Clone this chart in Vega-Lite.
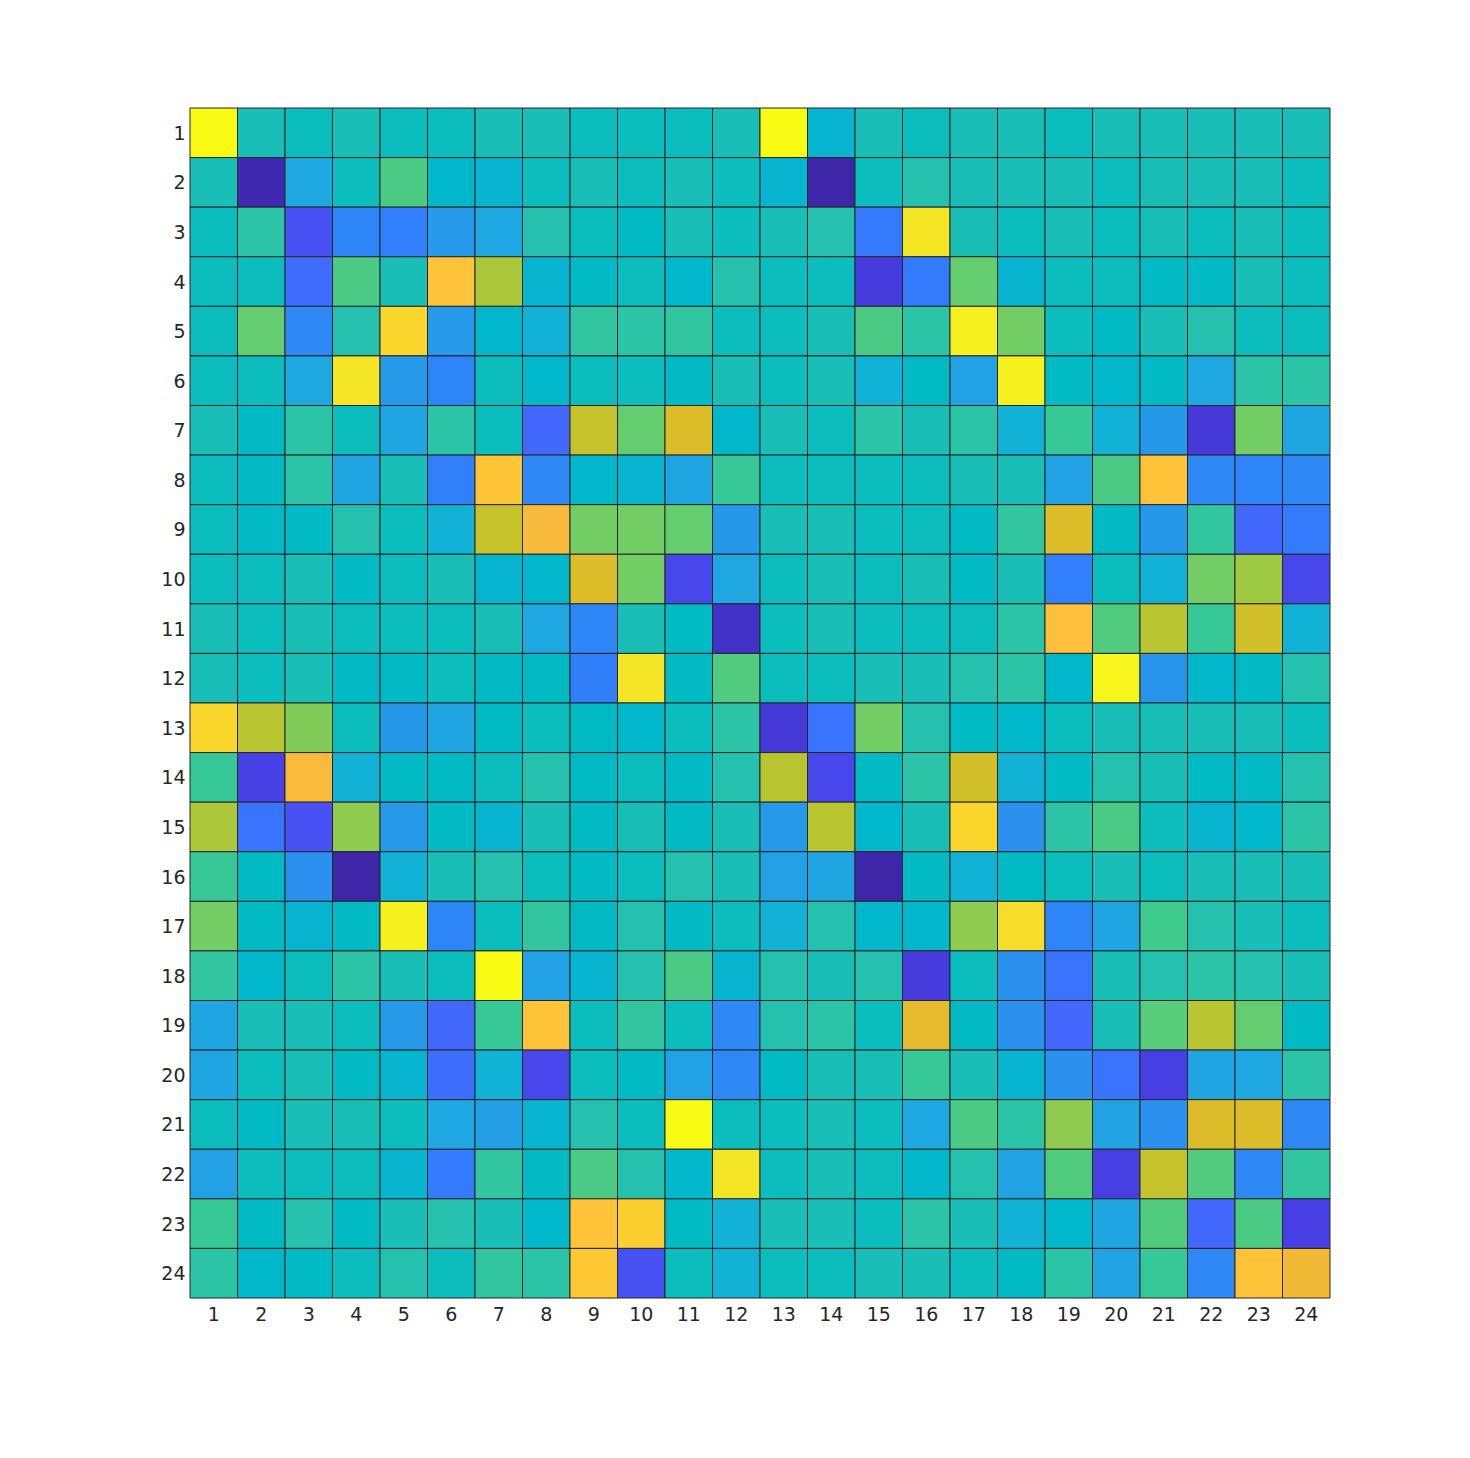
{
"$schema": "https://vega.github.io/schema/vega-lite/v6.json",
"width": 1140, "height": 1190,
"autosize": {"type": "none"},
"padding": {"left": 190, "top": 108, "right": 140, "bottom": 160},
"background": "white",
"config": {"view": {"stroke": null}},
"data": {"values": [
{"r":1,"c":1,"v":1},{"r":1,"c":2,"v":0.5079},{"r":1,"c":3,"v":0.4921},{"r":1,"c":4,"v":0.5079},{"r":1,"c":5,"v":0.4921},{"r":1,"c":6,"v":0.4921},{"r":1,"c":7,"v":0.5079},{"r":1,"c":8,"v":0.5079},{"r":1,"c":9,"v":0.4921},{"r":1,"c":10,"v":0.4921},{"r":1,"c":11,"v":0.4921},{"r":1,"c":12,"v":0.5079},{"r":1,"c":13,"v":1},{"r":1,"c":14,"v":0.4444},{"r":1,"c":15,"v":0.5079},{"r":1,"c":16,"v":0.4921},{"r":1,"c":17,"v":0.5079},{"r":1,"c":18,"v":0.5079},{"r":1,"c":19,"v":0.4921},{"r":1,"c":20,"v":0.5079},{"r":1,"c":21,"v":0.5079},{"r":1,"c":22,"v":0.5079},{"r":1,"c":23,"v":0.5079},{"r":1,"c":24,"v":0.5079},
{"r":2,"c":1,"v":0.5079},{"r":2,"c":2,"v":0.01},{"r":2,"c":3,"v":0.39},{"r":2,"c":4,"v":0.4921},{"r":2,"c":5,"v":0.603},{"r":2,"c":6,"v":0.4603},{"r":2,"c":7,"v":0.4444},{"r":2,"c":8,"v":0.4921},{"r":2,"c":9,"v":0.5079},{"r":2,"c":10,"v":0.4921},{"r":2,"c":11,"v":0.5079},{"r":2,"c":12,"v":0.4921},{"r":2,"c":13,"v":0.4444},{"r":2,"c":14,"v":0},{"r":2,"c":15,"v":0.4921},{"r":2,"c":16,"v":0.5238},{"r":2,"c":17,"v":0.5079},{"r":2,"c":18,"v":0.5079},{"r":2,"c":19,"v":0.5079},{"r":2,"c":20,"v":0.4921},{"r":2,"c":21,"v":0.5079},{"r":2,"c":22,"v":0.5079},{"r":2,"c":23,"v":0.5079},{"r":2,"c":24,"v":0.4921},
{"r":3,"c":1,"v":0.4921},{"r":3,"c":2,"v":0.5397},{"r":3,"c":3,"v":0.14},{"r":3,"c":4,"v":0.28},{"r":3,"c":5,"v":0.265},{"r":3,"c":6,"v":0.345},{"r":3,"c":7,"v":0.39},{"r":3,"c":8,"v":0.5238},{"r":3,"c":9,"v":0.4921},{"r":3,"c":10,"v":0.4762},{"r":3,"c":11,"v":0.5079},{"r":3,"c":12,"v":0.4921},{"r":3,"c":13,"v":0.5079},{"r":3,"c":14,"v":0.5238},{"r":3,"c":15,"v":0.25},{"r":3,"c":16,"v":0.945},{"r":3,"c":17,"v":0.5079},{"r":3,"c":18,"v":0.4921},{"r":3,"c":19,"v":0.5079},{"r":3,"c":20,"v":0.4921},{"r":3,"c":21,"v":0.5079},{"r":3,"c":22,"v":0.4921},{"r":3,"c":23,"v":0.5079},{"r":3,"c":24,"v":0.4921},
{"r":4,"c":1,"v":0.4921},{"r":4,"c":2,"v":0.4921},{"r":4,"c":3,"v":0.22},{"r":4,"c":4,"v":0.603},{"r":4,"c":5,"v":0.5079},{"r":4,"c":6,"v":0.857},{"r":4,"c":7,"v":0.714},{"r":4,"c":8,"v":0.4444},{"r":4,"c":9,"v":0.4762},{"r":4,"c":10,"v":0.4921},{"r":4,"c":11,"v":0.4603},{"r":4,"c":12,"v":0.5238},{"r":4,"c":13,"v":0.4921},{"r":4,"c":14,"v":0.4921},{"r":4,"c":15,"v":0.075},{"r":4,"c":16,"v":0.25},{"r":4,"c":17,"v":0.635},{"r":4,"c":18,"v":0.4444},{"r":4,"c":19,"v":0.4921},{"r":4,"c":20,"v":0.4921},{"r":4,"c":21,"v":0.4762},{"r":4,"c":22,"v":0.4762},{"r":4,"c":23,"v":0.5079},{"r":4,"c":24,"v":0.4921},
{"r":5,"c":1,"v":0.4921},{"r":5,"c":2,"v":0.635},{"r":5,"c":3,"v":0.29},{"r":5,"c":4,"v":0.5238},{"r":5,"c":5,"v":0.905},{"r":5,"c":6,"v":0.345},{"r":5,"c":7,"v":0.4603},{"r":5,"c":8,"v":0.429},{"r":5,"c":9,"v":0.556},{"r":5,"c":10,"v":0.5397},{"r":5,"c":11,"v":0.556},{"r":5,"c":12,"v":0.4921},{"r":5,"c":13,"v":0.4921},{"r":5,"c":14,"v":0.5079},{"r":5,"c":15,"v":0.603},{"r":5,"c":16,"v":0.5397},{"r":5,"c":17,"v":0.97},{"r":5,"c":18,"v":0.651},{"r":5,"c":19,"v":0.4921},{"r":5,"c":20,"v":0.4762},{"r":5,"c":21,"v":0.5079},{"r":5,"c":22,"v":0.5238},{"r":5,"c":23,"v":0.4921},{"r":5,"c":24,"v":0.4921},
{"r":6,"c":1,"v":0.4921},{"r":6,"c":2,"v":0.4921},{"r":6,"c":3,"v":0.39},{"r":6,"c":4,"v":0.945},{"r":6,"c":5,"v":0.345},{"r":6,"c":6,"v":0.28},{"r":6,"c":7,"v":0.4921},{"r":6,"c":8,"v":0.4603},{"r":6,"c":9,"v":0.4921},{"r":6,"c":10,"v":0.4921},{"r":6,"c":11,"v":0.4762},{"r":6,"c":12,"v":0.5079},{"r":6,"c":13,"v":0.4921},{"r":6,"c":14,"v":0.5079},{"r":6,"c":15,"v":0.429},{"r":6,"c":16,"v":0.4762},{"r":6,"c":17,"v":0.37},{"r":6,"c":18,"v":0.97},{"r":6,"c":19,"v":0.4762},{"r":6,"c":20,"v":0.4603},{"r":6,"c":21,"v":0.4762},{"r":6,"c":22,"v":0.39},{"r":6,"c":23,"v":0.5397},{"r":6,"c":24,"v":0.5397},
{"r":7,"c":1,"v":0.5079},{"r":7,"c":2,"v":0.4762},{"r":7,"c":3,"v":0.5397},{"r":7,"c":4,"v":0.4921},{"r":7,"c":5,"v":0.385},{"r":7,"c":6,"v":0.5397},{"r":7,"c":7,"v":0.4921},{"r":7,"c":8,"v":0.205},{"r":7,"c":9,"v":0.746},{"r":7,"c":10,"v":0.635},{"r":7,"c":11,"v":0.778},{"r":7,"c":12,"v":0.4603},{"r":7,"c":13,"v":0.5079},{"r":7,"c":14,"v":0.4921},{"r":7,"c":15,"v":0.5397},{"r":7,"c":16,"v":0.5079},{"r":7,"c":17,"v":0.5397},{"r":7,"c":18,"v":0.429},{"r":7,"c":19,"v":0.571},{"r":7,"c":20,"v":0.429},{"r":7,"c":21,"v":0.34},{"r":7,"c":22,"v":0.07},{"r":7,"c":23,"v":0.651},{"r":7,"c":24,"v":0.385},
{"r":8,"c":1,"v":0.4921},{"r":8,"c":2,"v":0.4762},{"r":8,"c":3,"v":0.5397},{"r":8,"c":4,"v":0.385},{"r":8,"c":5,"v":0.5079},{"r":8,"c":6,"v":0.265},{"r":8,"c":7,"v":0.865},{"r":8,"c":8,"v":0.29},{"r":8,"c":9,"v":0.4603},{"r":8,"c":10,"v":0.4444},{"r":8,"c":11,"v":0.385},{"r":8,"c":12,"v":0.571},{"r":8,"c":13,"v":0.4921},{"r":8,"c":14,"v":0.4921},{"r":8,"c":15,"v":0.4921},{"r":8,"c":16,"v":0.4921},{"r":8,"c":17,"v":0.5079},{"r":8,"c":18,"v":0.5079},{"r":8,"c":19,"v":0.37},{"r":8,"c":20,"v":0.603},{"r":8,"c":21,"v":0.857},{"r":8,"c":22,"v":0.29},{"r":8,"c":23,"v":0.28},{"r":8,"c":24,"v":0.29},
{"r":9,"c":1,"v":0.4921},{"r":9,"c":2,"v":0.4762},{"r":9,"c":3,"v":0.4762},{"r":9,"c":4,"v":0.5238},{"r":9,"c":5,"v":0.4921},{"r":9,"c":6,"v":0.429},{"r":9,"c":7,"v":0.746},{"r":9,"c":8,"v":0.825},{"r":9,"c":9,"v":0.651},{"r":9,"c":10,"v":0.651},{"r":9,"c":11,"v":0.635},{"r":9,"c":12,"v":0.34},{"r":9,"c":13,"v":0.5079},{"r":9,"c":14,"v":0.5079},{"r":9,"c":15,"v":0.4921},{"r":9,"c":16,"v":0.4921},{"r":9,"c":17,"v":0.4762},{"r":9,"c":18,"v":0.556},{"r":9,"c":19,"v":0.778},{"r":9,"c":20,"v":0.4762},{"r":9,"c":21,"v":0.34},{"r":9,"c":22,"v":0.556},{"r":9,"c":23,"v":0.205},{"r":9,"c":24,"v":0.25},
{"r":10,"c":1,"v":0.4921},{"r":10,"c":2,"v":0.4921},{"r":10,"c":3,"v":0.5079},{"r":10,"c":4,"v":0.4762},{"r":10,"c":5,"v":0.4921},{"r":10,"c":6,"v":0.5079},{"r":10,"c":7,"v":0.4444},{"r":10,"c":8,"v":0.4603},{"r":10,"c":9,"v":0.778},{"r":10,"c":10,"v":0.651},{"r":10,"c":11,"v":0.11},{"r":10,"c":12,"v":0.39},{"r":10,"c":13,"v":0.4921},{"r":10,"c":14,"v":0.5079},{"r":10,"c":15,"v":0.4921},{"r":10,"c":16,"v":0.5079},{"r":10,"c":17,"v":0.4762},{"r":10,"c":18,"v":0.5079},{"r":10,"c":19,"v":0.265},{"r":10,"c":20,"v":0.4921},{"r":10,"c":21,"v":0.429},{"r":10,"c":22,"v":0.651},{"r":10,"c":23,"v":0.698},{"r":10,"c":24,"v":0.11},
{"r":11,"c":1,"v":0.5079},{"r":11,"c":2,"v":0.4921},{"r":11,"c":3,"v":0.5079},{"r":11,"c":4,"v":0.4921},{"r":11,"c":5,"v":0.4921},{"r":11,"c":6,"v":0.4921},{"r":11,"c":7,"v":0.5079},{"r":11,"c":8,"v":0.39},{"r":11,"c":9,"v":0.285},{"r":11,"c":10,"v":0.5079},{"r":11,"c":11,"v":0.4762},{"r":11,"c":12,"v":0.04},{"r":11,"c":13,"v":0.4921},{"r":11,"c":14,"v":0.5079},{"r":11,"c":15,"v":0.4921},{"r":11,"c":16,"v":0.4921},{"r":11,"c":17,"v":0.4921},{"r":11,"c":18,"v":0.5397},{"r":11,"c":19,"v":0.845},{"r":11,"c":20,"v":0.612},{"r":11,"c":21,"v":0.73},{"r":11,"c":22,"v":0.571},{"r":11,"c":23,"v":0.762},{"r":11,"c":24,"v":0.429},
{"r":12,"c":1,"v":0.5079},{"r":12,"c":2,"v":0.4921},{"r":12,"c":3,"v":0.5079},{"r":12,"c":4,"v":0.4762},{"r":12,"c":5,"v":0.4762},{"r":12,"c":6,"v":0.4921},{"r":12,"c":7,"v":0.4762},{"r":12,"c":8,"v":0.4762},{"r":12,"c":9,"v":0.26},{"r":12,"c":10,"v":0.945},{"r":12,"c":11,"v":0.4762},{"r":12,"c":12,"v":0.612},{"r":12,"c":13,"v":0.4921},{"r":12,"c":14,"v":0.4921},{"r":12,"c":15,"v":0.5079},{"r":12,"c":16,"v":0.5079},{"r":12,"c":17,"v":0.5238},{"r":12,"c":18,"v":0.5397},{"r":12,"c":19,"v":0.4603},{"r":12,"c":20,"v":0.985},{"r":12,"c":21,"v":0.33},{"r":12,"c":22,"v":0.4603},{"r":12,"c":23,"v":0.4762},{"r":12,"c":24,"v":0.5238},
{"r":13,"c":1,"v":0.905},{"r":13,"c":2,"v":0.73},{"r":13,"c":3,"v":0.667},{"r":13,"c":4,"v":0.4921},{"r":13,"c":5,"v":0.34},{"r":13,"c":6,"v":0.385},{"r":13,"c":7,"v":0.4762},{"r":13,"c":8,"v":0.4921},{"r":13,"c":9,"v":0.4762},{"r":13,"c":10,"v":0.4603},{"r":13,"c":11,"v":0.4921},{"r":13,"c":12,"v":0.5397},{"r":13,"c":13,"v":0.07},{"r":13,"c":14,"v":0.235},{"r":13,"c":15,"v":0.651},{"r":13,"c":16,"v":0.5238},{"r":13,"c":17,"v":0.4762},{"r":13,"c":18,"v":0.4603},{"r":13,"c":19,"v":0.4921},{"r":13,"c":20,"v":0.5079},{"r":13,"c":21,"v":0.5079},{"r":13,"c":22,"v":0.5079},{"r":13,"c":23,"v":0.5079},{"r":13,"c":24,"v":0.4921},
{"r":14,"c":1,"v":0.571},{"r":14,"c":2,"v":0.095},{"r":14,"c":3,"v":0.83},{"r":14,"c":4,"v":0.429},{"r":14,"c":5,"v":0.4762},{"r":14,"c":6,"v":0.4762},{"r":14,"c":7,"v":0.4921},{"r":14,"c":8,"v":0.5238},{"r":14,"c":9,"v":0.4762},{"r":14,"c":10,"v":0.4921},{"r":14,"c":11,"v":0.4762},{"r":14,"c":12,"v":0.5238},{"r":14,"c":13,"v":0.73},{"r":14,"c":14,"v":0.11},{"r":14,"c":15,"v":0.4762},{"r":14,"c":16,"v":0.5397},{"r":14,"c":17,"v":0.762},{"r":14,"c":18,"v":0.429},{"r":14,"c":19,"v":0.4762},{"r":14,"c":20,"v":0.5238},{"r":14,"c":21,"v":0.5079},{"r":14,"c":22,"v":0.4762},{"r":14,"c":23,"v":0.4762},{"r":14,"c":24,"v":0.5238},
{"r":15,"c":1,"v":0.714},{"r":15,"c":2,"v":0.235},{"r":15,"c":3,"v":0.14},{"r":15,"c":4,"v":0.683},{"r":15,"c":5,"v":0.345},{"r":15,"c":6,"v":0.4762},{"r":15,"c":7,"v":0.4444},{"r":15,"c":8,"v":0.5079},{"r":15,"c":9,"v":0.4762},{"r":15,"c":10,"v":0.5079},{"r":15,"c":11,"v":0.4762},{"r":15,"c":12,"v":0.5079},{"r":15,"c":13,"v":0.345},{"r":15,"c":14,"v":0.73},{"r":15,"c":15,"v":0.4603},{"r":15,"c":16,"v":0.5079},{"r":15,"c":17,"v":0.905},{"r":15,"c":18,"v":0.32},{"r":15,"c":19,"v":0.5397},{"r":15,"c":20,"v":0.603},{"r":15,"c":21,"v":0.4921},{"r":15,"c":22,"v":0.4444},{"r":15,"c":23,"v":0.4603},{"r":15,"c":24,"v":0.5397},
{"r":16,"c":1,"v":0.571},{"r":16,"c":2,"v":0.4762},{"r":16,"c":3,"v":0.32},{"r":16,"c":4,"v":0},{"r":16,"c":5,"v":0.429},{"r":16,"c":6,"v":0.5079},{"r":16,"c":7,"v":0.5238},{"r":16,"c":8,"v":0.4921},{"r":16,"c":9,"v":0.4762},{"r":16,"c":10,"v":0.4921},{"r":16,"c":11,"v":0.5238},{"r":16,"c":12,"v":0.5079},{"r":16,"c":13,"v":0.37},{"r":16,"c":14,"v":0.385},{"r":16,"c":15,"v":0},{"r":16,"c":16,"v":0.4762},{"r":16,"c":17,"v":0.429},{"r":16,"c":18,"v":0.4762},{"r":16,"c":19,"v":0.4921},{"r":16,"c":20,"v":0.5079},{"r":16,"c":21,"v":0.4921},{"r":16,"c":22,"v":0.5079},{"r":16,"c":23,"v":0.5079},{"r":16,"c":24,"v":0.5079},
{"r":17,"c":1,"v":0.651},{"r":17,"c":2,"v":0.4762},{"r":17,"c":3,"v":0.4444},{"r":17,"c":4,"v":0.4762},{"r":17,"c":5,"v":0.97},{"r":17,"c":6,"v":0.28},{"r":17,"c":7,"v":0.4921},{"r":17,"c":8,"v":0.556},{"r":17,"c":9,"v":0.4762},{"r":17,"c":10,"v":0.5238},{"r":17,"c":11,"v":0.4762},{"r":17,"c":12,"v":0.4921},{"r":17,"c":13,"v":0.429},{"r":17,"c":14,"v":0.5238},{"r":17,"c":15,"v":0.4603},{"r":17,"c":16,"v":0.4603},{"r":17,"c":17,"v":0.683},{"r":17,"c":18,"v":0.921},{"r":17,"c":19,"v":0.28},{"r":17,"c":20,"v":0.385},{"r":17,"c":21,"v":0.587},{"r":17,"c":22,"v":0.5238},{"r":17,"c":23,"v":0.5079},{"r":17,"c":24,"v":0.4921},
{"r":18,"c":1,"v":0.556},{"r":18,"c":2,"v":0.4603},{"r":18,"c":3,"v":0.4921},{"r":18,"c":4,"v":0.5397},{"r":18,"c":5,"v":0.5079},{"r":18,"c":6,"v":0.4921},{"r":18,"c":7,"v":1},{"r":18,"c":8,"v":0.37},{"r":18,"c":9,"v":0.4444},{"r":18,"c":10,"v":0.5238},{"r":18,"c":11,"v":0.603},{"r":18,"c":12,"v":0.4444},{"r":18,"c":13,"v":0.5238},{"r":18,"c":14,"v":0.5079},{"r":18,"c":15,"v":0.5238},{"r":18,"c":16,"v":0.075},{"r":18,"c":17,"v":0.4921},{"r":18,"c":18,"v":0.32},{"r":18,"c":19,"v":0.235},{"r":18,"c":20,"v":0.5079},{"r":18,"c":21,"v":0.5238},{"r":18,"c":22,"v":0.5397},{"r":18,"c":23,"v":0.5238},{"r":18,"c":24,"v":0.5079},
{"r":19,"c":1,"v":0.385},{"r":19,"c":2,"v":0.5079},{"r":19,"c":3,"v":0.5079},{"r":19,"c":4,"v":0.4921},{"r":19,"c":5,"v":0.345},{"r":19,"c":6,"v":0.205},{"r":19,"c":7,"v":0.571},{"r":19,"c":8,"v":0.857},{"r":19,"c":9,"v":0.4921},{"r":19,"c":10,"v":0.556},{"r":19,"c":11,"v":0.4921},{"r":19,"c":12,"v":0.29},{"r":19,"c":13,"v":0.5238},{"r":19,"c":14,"v":0.5397},{"r":19,"c":15,"v":0.4921},{"r":19,"c":16,"v":0.794},{"r":19,"c":17,"v":0.4762},{"r":19,"c":18,"v":0.32},{"r":19,"c":19,"v":0.205},{"r":19,"c":20,"v":0.5079},{"r":19,"c":21,"v":0.619},{"r":19,"c":22,"v":0.73},{"r":19,"c":23,"v":0.635},{"r":19,"c":24,"v":0.4762},
{"r":20,"c":1,"v":0.385},{"r":20,"c":2,"v":0.4921},{"r":20,"c":3,"v":0.5079},{"r":20,"c":4,"v":0.4762},{"r":20,"c":5,"v":0.4444},{"r":20,"c":6,"v":0.22},{"r":20,"c":7,"v":0.429},{"r":20,"c":8,"v":0.11},{"r":20,"c":9,"v":0.4921},{"r":20,"c":10,"v":0.4762},{"r":20,"c":11,"v":0.37},{"r":20,"c":12,"v":0.29},{"r":20,"c":13,"v":0.4762},{"r":20,"c":14,"v":0.5079},{"r":20,"c":15,"v":0.5079},{"r":20,"c":16,"v":0.571},{"r":20,"c":17,"v":0.5079},{"r":20,"c":18,"v":0.4444},{"r":20,"c":19,"v":0.32},{"r":20,"c":20,"v":0.235},{"r":20,"c":21,"v":0.09},{"r":20,"c":22,"v":0.385},{"r":20,"c":23,"v":0.39},{"r":20,"c":24,"v":0.5397},
{"r":21,"c":1,"v":0.4921},{"r":21,"c":2,"v":0.4762},{"r":21,"c":3,"v":0.5079},{"r":21,"c":4,"v":0.5079},{"r":21,"c":5,"v":0.4921},{"r":21,"c":6,"v":0.39},{"r":21,"c":7,"v":0.365},{"r":21,"c":8,"v":0.4444},{"r":21,"c":9,"v":0.5238},{"r":21,"c":10,"v":0.4921},{"r":21,"c":11,"v":1},{"r":21,"c":12,"v":0.4921},{"r":21,"c":13,"v":0.4921},{"r":21,"c":14,"v":0.5079},{"r":21,"c":15,"v":0.4921},{"r":21,"c":16,"v":0.39},{"r":21,"c":17,"v":0.603},{"r":21,"c":18,"v":0.5397},{"r":21,"c":19,"v":0.683},{"r":21,"c":20,"v":0.375},{"r":21,"c":21,"v":0.32},{"r":21,"c":22,"v":0.778},{"r":21,"c":23,"v":0.778},{"r":21,"c":24,"v":0.29},
{"r":22,"c":1,"v":0.37},{"r":22,"c":2,"v":0.4921},{"r":22,"c":3,"v":0.4921},{"r":22,"c":4,"v":0.4921},{"r":22,"c":5,"v":0.4444},{"r":22,"c":6,"v":0.25},{"r":22,"c":7,"v":0.556},{"r":22,"c":8,"v":0.4762},{"r":22,"c":9,"v":0.603},{"r":22,"c":10,"v":0.5238},{"r":22,"c":11,"v":0.4603},{"r":22,"c":12,"v":0.945},{"r":22,"c":13,"v":0.4921},{"r":22,"c":14,"v":0.5079},{"r":22,"c":15,"v":0.4921},{"r":22,"c":16,"v":0.4603},{"r":22,"c":17,"v":0.5238},{"r":22,"c":18,"v":0.375},{"r":22,"c":19,"v":0.612},{"r":22,"c":20,"v":0.09},{"r":22,"c":21,"v":0.746},{"r":22,"c":22,"v":0.612},{"r":22,"c":23,"v":0.29},{"r":22,"c":24,"v":0.556},
{"r":23,"c":1,"v":0.571},{"r":23,"c":2,"v":0.4762},{"r":23,"c":3,"v":0.5238},{"r":23,"c":4,"v":0.4762},{"r":23,"c":5,"v":0.5079},{"r":23,"c":6,"v":0.5238},{"r":23,"c":7,"v":0.5079},{"r":23,"c":8,"v":0.4603},{"r":23,"c":9,"v":0.857},{"r":23,"c":10,"v":0.889},{"r":23,"c":11,"v":0.4762},{"r":23,"c":12,"v":0.429},{"r":23,"c":13,"v":0.5079},{"r":23,"c":14,"v":0.5079},{"r":23,"c":15,"v":0.4921},{"r":23,"c":16,"v":0.5397},{"r":23,"c":17,"v":0.5079},{"r":23,"c":18,"v":0.429},{"r":23,"c":19,"v":0.4603},{"r":23,"c":20,"v":0.38},{"r":23,"c":21,"v":0.612},{"r":23,"c":22,"v":0.205},{"r":23,"c":23,"v":0.603},{"r":23,"c":24,"v":0.09},
{"r":24,"c":1,"v":0.5397},{"r":24,"c":2,"v":0.4603},{"r":24,"c":3,"v":0.4762},{"r":24,"c":4,"v":0.4921},{"r":24,"c":5,"v":0.5238},{"r":24,"c":6,"v":0.4921},{"r":24,"c":7,"v":0.556},{"r":24,"c":8,"v":0.5397},{"r":24,"c":9,"v":0.873},{"r":24,"c":10,"v":0.14},{"r":24,"c":11,"v":0.4921},{"r":24,"c":12,"v":0.429},{"r":24,"c":13,"v":0.4921},{"r":24,"c":14,"v":0.4921},{"r":24,"c":15,"v":0.5079},{"r":24,"c":16,"v":0.5079},{"r":24,"c":17,"v":0.4921},{"r":24,"c":18,"v":0.4762},{"r":24,"c":19,"v":0.5397},{"r":24,"c":20,"v":0.375},{"r":24,"c":21,"v":0.571},{"r":24,"c":22,"v":0.29},{"r":24,"c":23,"v":0.857},{"r":24,"c":24,"v":0.81}
]},
"mark": {"type": "rect", "stroke": "#262626", "strokeWidth": 1},
"encoding": {
  "x": {"field": "c", "type": "ordinal", "scale": {"paddingInner": 0, "paddingOuter": 0},
        "axis": {"title": null, "orient": "bottom", "labelAngle": 0, "ticks": false, "domain": false, "labelFont": "DejaVu Sans", "labelFontSize": 19, "labelColor": "#262626", "labelPadding": 7}},
  "y": {"field": "r", "type": "ordinal", "scale": {"paddingInner": 0, "paddingOuter": 0},
        "axis": {"title": null, "ticks": false, "domain": false, "labelFont": "DejaVu Sans", "labelFontSize": 19, "labelColor": "#262626", "labelPadding": 5, "labelOffset": 1}},
  "color": {"field": "v", "type": "quantitative", "legend": null,
    "scale": {"type": "linear", "interpolate": "rgb",
      "domain": [0,0.015873,0.031746,0.047619,0.063492,0.079365,0.095238,0.111111,0.126984,0.142857,0.15873,0.174603,0.190476,0.206349,0.222222,0.238095,0.253968,0.269841,0.285714,0.301587,0.31746,0.333333,0.349206,0.365079,0.380952,0.396825,0.412698,0.428571,0.444444,0.460317,0.47619,0.492063,0.507937,0.52381,0.539683,0.555556,0.571429,0.587302,0.603175,0.619048,0.634921,0.650794,0.666667,0.68254,0.698413,0.714286,0.730159,0.746032,0.761905,0.777778,0.793651,0.809524,0.825397,0.84127,0.857143,0.873016,0.888889,0.904762,0.920635,0.936508,0.952381,0.968254,0.984127,1],
      "range": ["#3e26a8","#402ab4","#422ec0","#4332cb","#4537d5","#463cde","#4741e5","#4747eb","#484df0","#4852f4","#4758f8","#465efb","#4563fd","#4269fe","#3e6fff","#3875fe","#327cfc","#2f81fa","#2e87f7","#2d8cf3","#2b91ef","#2796eb","#259be8","#23a0e5","#20a5e3","#1ca9df","#18addb","#12b1d6","#08b5d0","#01b8ca","#02bac3","#0bbdbd","#19bfb6","#24c1ae","#2cc4a7","#31c69f","#37c897","#3fca8e","#4acb84","#57cc7a","#64cd6f","#72cd64","#81cc59","#8fcb4e","#9dc943","#abc739","#b9c431","#c5c22a","#d1bf27","#dcbd29","#e6bb2d","#f0ba36","#f8ba3d","#febe3c","#fec338","#fec934","#fccf30","#fad62d","#f7dc2a","#f5e327","#f5e924","#f6ef20","#f7f51b","#f9fb15"]}}
}
}
